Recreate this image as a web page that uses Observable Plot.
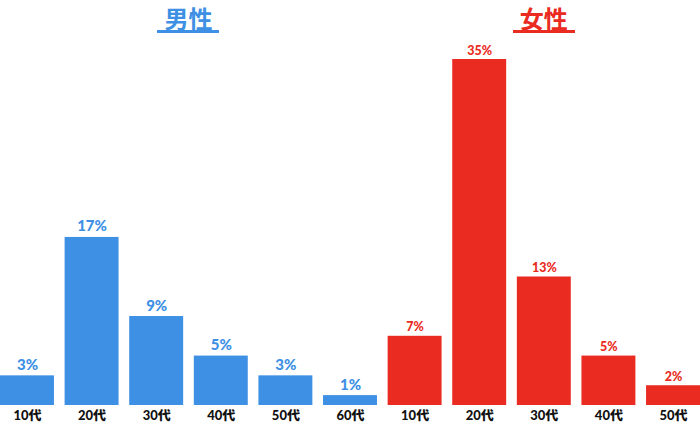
<!DOCTYPE html>
<html>
<head>
<meta charset="utf-8">
<script src="https://cdn.jsdelivr.net/npm/d3@7"></script>
<script src="https://cdn.jsdelivr.net/npm/@observablehq/plot@0.6"></script>
<style>
  html, body { margin: 0; padding: 0; background: #fff; }
  #wrap { position: relative; width: 700px; height: 424px; overflow: hidden; font-family: "Noto Sans CJK JP", sans-serif; }
  #titles { position: relative; height: 40px; }
  .title { position: absolute; top: 5px; transform: translateX(-50%); font-size: 24px; font-weight: 700; line-height: 25px; padding: 0 7px 0 7px; border-bottom: 3px solid; white-space: nowrap; }
</style>
</head>
<body>
<div id="wrap">
  <div id="titles"></div>
  <div id="chart"></div>
</div>
<script>
const groupTitles = ["男性", "女性"];
const groupColors = ["#3d90e4", "#e92b22"];
const maleAges = ["10代", "20代", "30代", "40代", "50代", "60代"];
const maleValues = [3, 17, 9, 5, 3, 1];
const femaleAges = ["10代", "20代", "30代", "40代", "50代"];
const femaleValues = [7, 35, 13, 5, 2];

const rows = [
  ...maleAges.map((a, i) => ({key: "m-" + a, age: a, value: maleValues[i], group: groupTitles[0]})),
  ...femaleAges.map((a, i) => ({key: "f-" + a, age: a, value: femaleValues[i], group: groupTitles[1]}))
];

const plot = Plot.plot({
  width: 700,
  height: 384,
  marginTop: 19,
  marginBottom: 19,
  marginLeft: 0,
  marginRight: 0,
  style: {fontFamily: "Lato, 'Noto Sans CJK JP', sans-serif", overflow: "visible"},
  x: {domain: rows.map(d => d.key), paddingInner: 0.165, paddingOuter: 0, round: false, axis: null},
  y: {domain: [0, 35], axis: null},
  color: {domain: groupTitles, range: groupColors},
  marks: [
    Plot.barY(rows, {x: "key", y: "value", fill: "group"}),
    Plot.text(rows.filter(d => d.group === groupTitles[0]), {
      x: "key", y: "value", text: d => d.value + "%",
      fill: "group", dy: -6, lineAnchor: "bottom",
      fontSize: 15, fontWeight: 900
    }),
    Plot.text(rows.filter(d => d.group === groupTitles[1]), {
      x: "key", y: "value", text: d => d.value + "%",
      fill: "group", dy: -5, lineAnchor: "bottom",
      fontSize: 12.5, fontWeight: 900
    }),
    Plot.text(rows, {
      x: "key", text: "age", frameAnchor: "bottom", lineAnchor: "top", dy: 5,
      fontSize: 13, fontWeight: 900, fill: "#111"
    })
  ]
});
document.getElementById("chart").appendChild(plot);

// titles centred over each group's bars using the x scale
const xs = plot.scale("x");
const titles = document.getElementById("titles");
groupTitles.forEach((g, gi) => {
  const keys = rows.filter(d => d.group === g).map(d => d.key);
  const left = xs.apply(keys[0]);
  const right = xs.apply(keys[keys.length - 1]) + xs.bandwidth;
  const el = document.createElement("div");
  el.className = "title";
  el.textContent = g;
  el.style.left = ((left + right) / 2) + "px";
  el.style.color = groupColors[gi];
  el.style.borderColor = groupColors[gi];
  titles.appendChild(el);
});
</script>
</body>
</html>
